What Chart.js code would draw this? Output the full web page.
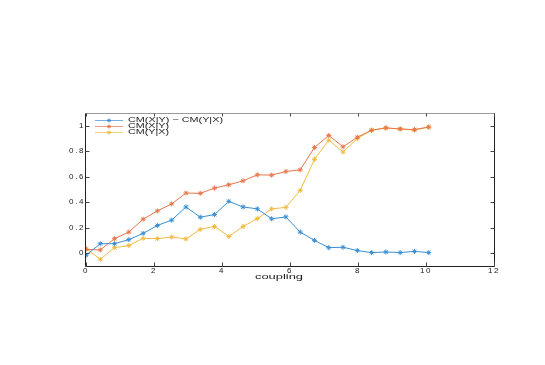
<!DOCTYPE html>
<html>
<head>
<meta charset="utf-8">
<script src="https://cdn.jsdelivr.net/npm/chart.js@4/dist/chart.umd.min.js"></script>
<style>
html,body{margin:0;padding:0;background:#fff;}
#wrap{width:545px;height:365px;}
</style>
</head>
<body>
<div id="wrap"><canvas id="c" width="545" height="365"></canvas></div>
<script>
const xValues = [0,0.42,0.84,1.26,1.68,2.1,2.52,2.94,3.36,3.78,4.2,4.62,5.04,5.46,5.88,6.3,6.72,7.14,7.56,7.98,8.4,8.82,9.24,9.66,10.08];
const diffValues = [-0.016,0.075,0.075,0.107,0.156,0.218,0.26,0.363,0.283,0.303,0.407,0.363,0.348,0.27,0.285,0.166,0.101,0.044,0.047,0.021,0.005,0.01,0.005,0.015,0.005];
const cmXYValues = [0.031,0.026,0.114,0.166,0.267,0.332,0.387,0.472,0.47,0.511,0.537,0.568,0.615,0.613,0.641,0.654,0.83,0.924,0.835,0.91,0.965,0.983,0.975,0.97,0.99];
const cmYXValues = [0.036,-0.047,0.044,0.06,0.117,0.114,0.127,0.112,0.187,0.21,0.132,0.21,0.272,0.348,0.36,0.493,0.737,0.887,0.794,0.9,0.965,0.983,0.975,0.965,0.99];
const seriesLabels = ['CM(X|Y) \u2212 CM(Y|X)','CM(X|Y)','CM(Y|X)'];
const seriesColors = ['#3a8fd2','#e8764a','#f2bb42'];
const xTicks = [0,2,4,6,8,10,12];
const yTicks = [0,0.2,0.4,0.6,0.8,1];
const xTitle = 'coupling';

function pts(vals){ return vals.map((v,i)=>({x:xValues[i], y:v})); }
const allSeries = [diffValues, cmXYValues, cmYXValues];

const FONT = '"Liberation Sans", Arial, Helvetica, sans-serif';

function stretchedText(ctx, text, x, y, targetW, align){
  ctx.letterSpacing = '0px';
  const w = ctx.measureText(text).width;
  const k = targetW / w;
  ctx.save();
  let left = x;
  if (align === 'center') left = x - targetW/2;
  ctx.translate(left, y);
  ctx.scale(k, 1);
  ctx.textAlign = 'left';
  ctx.fillText(text, 0, 0);
  ctx.restore();
}

const decor = {
  id: 'decor',
  beforeUpdate(chart){ chart.ctx.letterSpacing = '1.6px'; },
  beforeDraw(chart){ chart.ctx.letterSpacing = '1.6px'; },
  afterDraw(chart){
    const ctx = chart.ctx, a = chart.chartArea;
    const xs = chart.scales.x, ys = chart.scales.y;
    const L = Math.round(a.left) - 0.5, R = Math.round(a.right) + 0.5;
    const T = Math.round(a.top) + 0.5, B = Math.round(a.bottom) + 0.5;
    ctx.save();
    ctx.lineWidth = 1;
    ctx.strokeStyle = '#9a9a9a';
    ctx.beginPath(); ctx.moveTo(L, T); ctx.lineTo(R, T); ctx.stroke();
    ctx.strokeStyle = '#222';
    ctx.beginPath(); ctx.moveTo(R, T); ctx.lineTo(R, B); ctx.stroke();
    ctx.beginPath(); ctx.moveTo(L, T); ctx.lineTo(L, B); ctx.lineTo(R, B); ctx.stroke();
    ctx.strokeStyle = '#444';
    xTicks.forEach(v=>{
      const px = Math.round(xs.getPixelForValue(v)) + 0.5;
      ctx.beginPath(); ctx.moveTo(px, B); ctx.lineTo(px, B-4); ctx.stroke();
      ctx.beginPath(); ctx.moveTo(px, T); ctx.lineTo(px, T+3); ctx.stroke();
    });
    yTicks.forEach(v=>{
      const py = Math.round(ys.getPixelForValue(v)) + 0.5;
      ctx.beginPath(); ctx.moveTo(L, py); ctx.lineTo(L+4, py); ctx.stroke();
      ctx.beginPath(); ctx.moveTo(R, py); ctx.lineTo(R-4, py); ctx.stroke();
    });
    ctx.fillStyle = '#1a1a1a';
    ctx.textBaseline = 'middle';
    ctx.font = '7.5px ' + FONT;
    stretchedText(ctx, xTitle, 279, 276.5, 48, 'center');
    ctx.font = '7px ' + FONT;
    const rows = [120, 126, 132];
    const widths = [95, 41, 41];
    rows.forEach((ry, i)=>{
      ctx.strokeStyle = seriesColors[i];
      ctx.globalAlpha = 0.7;
      ctx.beginPath(); ctx.moveTo(95, ry+0.5); ctx.lineTo(123, ry+0.5); ctx.stroke();
      ctx.globalAlpha = 1;
      const cx = 109, cy = ry + 0.5, r = 2;
      ctx.beginPath();
      ctx.moveTo(cx-r, cy); ctx.lineTo(cx+r, cy);
      ctx.moveTo(cx, cy-r); ctx.lineTo(cx, cy+r);
      ctx.moveTo(cx-r*0.7, cy-r*0.7); ctx.lineTo(cx+r*0.7, cy+r*0.7);
      ctx.moveTo(cx-r*0.7, cy+r*0.7); ctx.lineTo(cx+r*0.7, cy-r*0.7);
      ctx.stroke();
      ctx.fillStyle = '#1a1a1a';
      stretchedText(ctx, seriesLabels[i], 128, ry + 0.5, widths[i], 'left');
    });
    ctx.restore();
  }
};

new Chart(document.getElementById('c'), {
  type: 'line',
  data: {
    datasets: allSeries.map((vals, i)=>({
      label: seriesLabels[i],
      data: pts(vals),
      borderColor: seriesColors[i],
      backgroundColor: seriesColors[i],
      borderWidth: 1,
      pointStyle: 'star',
      pointRadius: 2.5,
      pointBorderWidth: 1,
      pointBorderColor: seriesColors[i],
      tension: 0,
      fill: false
    }))
  },
  options: {
    responsive: false,
    animation: false,
    events: [],
    layout: { padding: { top: 113, right: 51, bottom: 0, left: 0 } },
    plugins: { legend: { display: false }, tooltip: { enabled: false } },
    scales: {
      x: {
        type: 'linear', min: 0, max: 12,
        grid: { display: false, drawTicks: false },
        border: { display: false },
        afterBuildTicks(s){ s.ticks = xTicks.map(v=>({value:v})); },
        afterFit(s){ s.height = 99; },
        ticks: { padding: 0, maxRotation: 0, color: '#1a1a1a', font: { size: 8, family: FONT },
                 callback: v => String(v) }
      },
      y: {
        type: 'linear', min: -0.1, max: 1.1,
        grid: { display: false, drawTicks: false },
        border: { display: false },
        afterBuildTicks(s){ s.ticks = yTicks.map(v=>({value:v})); },
        afterFit(s){ s.width = 86; },
        ticks: { padding: 1, color: '#1a1a1a', font: { size: 8, family: FONT },
                 callback: v => String(+Number(v).toFixed(1)) }
      }
    }
  },
  plugins: [decor]
});
</script>
</body>
</html>
